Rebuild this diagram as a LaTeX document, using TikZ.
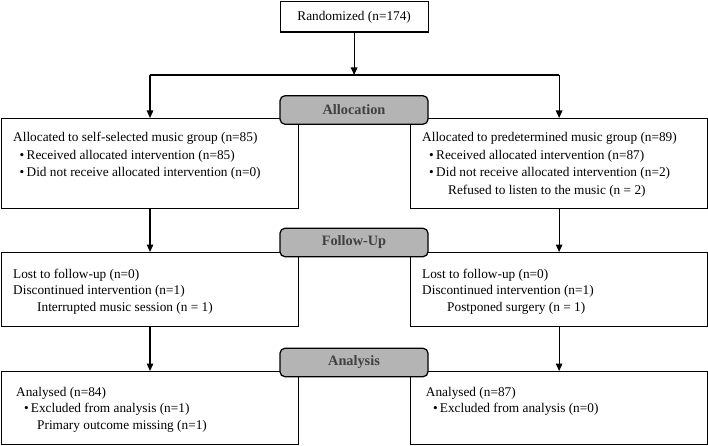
\documentclass[tikz,border=0pt]{standalone}
\usepackage{fontspec}
\setmainfont{Liberation Serif}
\usetikzlibrary{arrows.meta}
\definecolor{phasegray}{HTML}{B4B4B4}
\definecolor{phasetext}{HTML}{404040}
\begin{document}
\begin{tikzpicture}[x=1pt,y=-1pt,
  box/.style={draw, line width=1.25pt, rectangle, inner sep=0pt, anchor=north west},
  phase/.style={draw, line width=1.25pt, fill=phasegray, rounded corners=5pt,
    minimum width=148pt, minimum height=28.5pt, inner sep=0pt,
    font=\fontsize{14.3}{16}\selectfont\bfseries, text=phasetext},
  txt/.style={anchor=base west, inner sep=0pt, font=\fontsize{13.3}{16}\selectfont},
  arr/.style={line width=1.25pt, -{Triangle[length=7.5pt,width=6.5pt]}},
  ln/.style={line width=1.25pt}]
\useasboundingbox (0,0) rectangle (708,446);

% top box
\node[box, minimum width=148pt, minimum height=30.5pt] (rand) at (279.5,1) {};
\node[inner sep=0pt, font=\fontsize{13.3}{16}\selectfont] (randt) at (rand.center) {Randomized (n=174)};

% row boxes
\node[box, minimum width=297.4pt, minimum height=90pt] (l1) at (0.7,118) {};
\node[box, minimum width=297pt, minimum height=90pt] (r1) at (410,118) {};
\node[box, minimum width=297.4pt, minimum height=74pt] (l2) at (0.7,252) {};
\node[box, minimum width=297pt, minimum height=74pt] (r2) at (410,252) {};
\node[box, minimum width=297.4pt, minimum height=73pt] (l3) at (0.7,371) {};
\node[box, minimum width=297pt, minimum height=73pt] (r3) at (410,371) {};

% phase labels
\node[phase] (alloc) at (354,110) {Allocation};
\node[phase] (follow) at (354,242.5) {Follow-Up};
\node[phase] (anal) at (354,362.5) {Analysis};

% connectors
\coordinate (hl) at (rand.south |- 0,75);
\coordinate (hlL) at (l1.north |- hl);
\coordinate (hlR) at (r1.north |- hl);
\draw[arr] (rand.south) -- (hl);
\draw[ln] (hlL) -- (hlR);
\draw[arr] (hlL) -- (l1.north);
\draw[arr] (hlR) -- (r1.north);
\draw[arr] (l1.south) -- (l2.north);
\draw[arr] (r1.south) -- (r2.north);
\draw[arr] (l2.south) -- (l3.north);
\draw[arr] (r2.south) -- (r3.north);

% row 1 texts
\node[txt] (l1a) at (13,142) {Allocated to self-selected music group (n=85)};
\node[txt] (l1b) at (19.5,160) {\makebox[7pt][l]{•}Received allocated intervention (n=85)};
\node[txt] (l1c) at (19.5,177) {\makebox[7pt][l]{•}Did not receive allocated intervention (n=0)};
\node[txt] (r1a) at (422,142) {Allocated to predetermined music group (n=89)};
\node[txt] (r1b) at (429,160) {\makebox[7pt][l]{•}Received allocated intervention (n=87)};
\node[txt] (r1c) at (429,177) {\makebox[7pt][l]{•}Did not receive allocated intervention (n=2)};
\node[txt] (r1d) at (448,194) {Refused to listen to the music (n = 2)};

% row 2 texts
\node[txt] (l2a) at (13,278) {Lost to follow-up (n=0)};
\node[txt] (l2b) at (13,294.5) {Discontinued intervention (n=1)};
\node[txt] (l2c) at (37,311) {Interrupted music session (n = 1)};
\node[txt] (r2a) at (422,278) {Lost to follow-up (n=0)};
\node[txt] (r2b) at (422,294.5) {Discontinued intervention (n=1)};
\node[txt] (r2c) at (447,311) {Postponed surgery (n = 1)};

% row 3 texts
\node[txt] (l3a) at (16,396) {Analysed (n=84)};
\node[txt] (l3b) at (24,412) {\makebox[6.7pt][l]{•}Excluded from analysis (n=1)};
\node[txt] (l3c) at (37,429) {Primary outcome missing (n=1)};
\node[txt] (r3a) at (425.7,396) {Analysed (n=87)};
\node[txt] (r3b) at (433,412) {\makebox[6.7pt][l]{•}Excluded from analysis (n=0)};
\end{tikzpicture}
\end{document}
